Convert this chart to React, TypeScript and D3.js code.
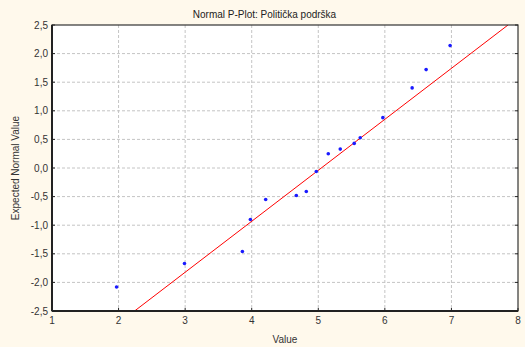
import React from "react";
import * as d3 from "d3";

const title = "Normal P-Plot: Politička podrška";
const xLabel = "Value";
const yLabel = "Expected Normal Value";
const xTicks = [1, 2, 3, 4, 5, 6, 7, 8];
const yTicks = [-2.5, -2.0, -1.5, -1.0, -0.5, 0.0, 0.5, 1.0, 1.5, 2.0, 2.5];
const values = [1.97, 2.99, 3.86, 3.98, 4.21, 4.67, 4.82, 4.97, 5.15, 5.33, 5.54, 5.63, 5.97, 6.41, 6.62, 6.98];
const expected = [-2.08, -1.67, -1.46, -0.9, -0.55, -0.48, -0.41, -0.06, 0.25, 0.33, 0.43, 0.53, 0.88, 1.4, 1.72, 2.14];
const fitX = [2.24, 7.85];
const fitY = [-2.5, 2.5];

const W = 525, H = 347;
const L = 52, R = 518, T = 25, B = 311;

export default function App() {
  const x = d3.scaleLinear().domain([1, 8]).range([L, R]);
  const y = d3.scaleLinear().domain([-2.5, 2.5]).range([B, T]);
  const fmt = (v: number) => v.toFixed(1).replace(".", ",");
  const font = "'Liberation Sans', Arial, sans-serif";
  const line = d3.line<number>().x((_, i) => x(fitX[i])).y((d) => y(d));
  return (
    <svg width={W} height={H} style={{ position: "fixed", left: 0, top: 0 }} fontFamily={font}>
      <rect x={0} y={0} width={W} height={H} fill="#fff9ec" />
      <rect x={L} y={T} width={R - L} height={B - T} fill="#ffffff" />
      <defs>
        <clipPath id="clip">
          <rect x={L} y={T} width={R - L} height={B - T} />
        </clipPath>
      </defs>
      {xTicks.slice(1, -1).map((t) => (
        <line key={"gx" + t} x1={x(t)} x2={x(t)} y1={T} y2={B} stroke="#c4c4c4" strokeDasharray="3,2" />
      ))}
      {yTicks.slice(1, -1).map((t) => (
        <line key={"gy" + t} x1={L} x2={R} y1={y(t)} y2={y(t)} stroke="#c4c4c4" strokeDasharray="3,2" />
      ))}
      <path d={line(fitY) || ""} stroke="#ff0000" strokeWidth={1} fill="none" clipPath="url(#clip)" />
      {values.map((v, i) => (
        <circle key={i} cx={x(v)} cy={y(expected[i])} r={1.8} fill="#1a1aff" />
      ))}
      <rect x={L} y={T} width={R - L} height={B - T} fill="none" stroke="#333" strokeWidth={1.2} />
      <line x1={L} x2={L} y1={T} y2={B} stroke="#222" strokeWidth={2} />
      <line x1={L} x2={R} y1={B} y2={B} stroke="#222" strokeWidth={2} />
      {xTicks.map((t) => (
        <g key={"xt" + t}>
          <line x1={x(t)} x2={x(t)} y1={B} y2={B - 3} stroke="#222" />
          <text x={x(t)} y={324} textAnchor="middle" fontSize={10} fill="#333">{t}</text>
        </g>
      ))}
      {yTicks.map((t) => (
        <g key={"yt" + t}>
          <line x1={L} x2={L + 3} y1={y(t)} y2={y(t)} stroke="#222" />
          <line x1={R} x2={R - 3} y1={y(t)} y2={y(t)} stroke="#222" />
          <text x={48} y={y(t) + 3.5} textAnchor="end" fontSize={10} fill="#333">{fmt(t)}</text>
        </g>
      ))}
      <text x={264.5} y={17.5} textAnchor="middle" fontSize={10} fill="#222">{title}</text>
      <text x={285} y={342.5} textAnchor="middle" fontSize={10} fill="#333">{xLabel}</text>
      <text transform={`translate(18.5,${(T + B) / 2}) rotate(-90)`} textAnchor="middle" fontSize={10} fill="#333">{yLabel}</text>
    </svg>
  );
}
